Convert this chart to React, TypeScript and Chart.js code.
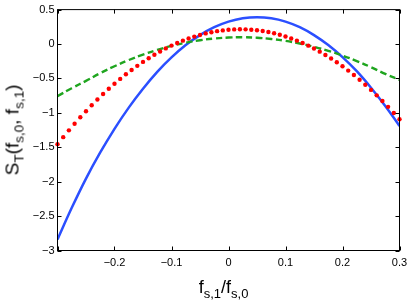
import React, { useEffect, useRef } from "react";
import { Chart, registerables } from "chart.js";

Chart.register(...registerables);

const xValues = [-0.3, -0.275, -0.25, -0.225, -0.2, -0.175, -0.15, -0.125, -0.1, -0.075, -0.05, -0.025, 0, 0.025, 0.05, 0.075, 0.1, 0.125, 0.15, 0.175, 0.2, 0.225, 0.25, 0.275, 0.3];
const blueValues = [-2.84, -2.38, -1.955, -1.576, -1.232, -0.924, -0.65, -0.405, -0.195, -0.015, 0.13, 0.244, 0.325, 0.374, 0.39, 0.374, 0.326, 0.245, 0.13, -0.015, -0.19, -0.395, -0.635, -0.9, -1.19];
const greenValues = [-0.757, -0.642, -0.536, -0.424, -0.323, -0.233, -0.153, -0.085, -0.027, 0.019, 0.055, 0.08, 0.094, 0.098, 0.091, 0.073, 0.046, 0.008, -0.041, -0.099, -0.168, -0.247, -0.336, -0.435, -0.52];

const redX = [
  -0.3, -0.29, -0.28, -0.27, -0.26, -0.25, -0.24, -0.23, -0.22, -0.21,
  -0.2, -0.19, -0.18, -0.17, -0.16, -0.15, -0.14, -0.13, -0.12, -0.11,
  -0.1, -0.09, -0.08, -0.07, -0.06, -0.05, -0.04, -0.03, -0.02, -0.01,
  0, 0.01, 0.02, 0.03, 0.04, 0.05, 0.06, 0.07, 0.08, 0.09,
  0.1, 0.11, 0.12, 0.13, 0.14, 0.15, 0.16, 0.17, 0.18, 0.19,
  0.2, 0.21, 0.22, 0.23, 0.24, 0.25, 0.26, 0.27, 0.28, 0.29, 0.3,
];
const redValues = [
  -1.455, -1.353, -1.254, -1.158, -1.065, -0.976, -0.89, -0.807, -0.727, -0.65,
  -0.577, -0.507, -0.44, -0.377, -0.317, -0.26, -0.206, -0.155, -0.108, -0.064,
  -0.023, 0.014, 0.049, 0.08, 0.108, 0.132, 0.154, 0.172, 0.187, 0.198,
  0.207, 0.212, 0.214, 0.213, 0.208, 0.2, 0.188, 0.174, 0.156, 0.134,
  0.109, 0.081, 0.049, 0.014, -0.024, -0.066, -0.111, -0.159, -0.211, -0.266,
  -0.324, -0.386, -0.451, -0.52, -0.592, -0.667, -0.746, -0.828, -0.913, -1.002, -1.094,
];

const xTickValues = [-0.3, -0.2, -0.1, 0, 0.1, 0.2, 0.3];
const xTickLabels = ["", "\u22120.2", "\u22120.1", "0", "0.1", "0.2", "0.3"];
const yTickValues = [-3, -2.5, -2, -1.5, -1, -0.5, 0, 0.5];
const yTickLabels = ["\u22123", "\u22122.5", "\u22122", "\u22121.5", "\u22121", "\u22120.5", "0", "0.5"];

const FONT = "'Liberation Sans', Arial, Helvetica, sans-serif";

const framePlugin = {
  id: "frame",
  afterDatasetsDraw(chart: any) {
    const { ctx, chartArea: a, scales } = chart;
    ctx.save();
    ctx.strokeStyle = "#000";
    ctx.lineWidth = 1;
    ctx.setLineDash([]);
    ctx.strokeRect(a.left, a.top, a.right - a.left, a.bottom - a.top);
    const tl = 4;
    ctx.beginPath();
    xTickValues.forEach((v) => {
      const px = Math.round(scales.x.getPixelForValue(v)) + 0.5;
      ctx.moveTo(px, a.bottom);
      ctx.lineTo(px, a.bottom - tl);
      ctx.moveTo(px, a.top);
      ctx.lineTo(px, a.top + tl);
    });
    yTickValues.forEach((v) => {
      const py = Math.round(scales.y.getPixelForValue(v)) + 0.5;
      ctx.moveTo(a.left, py);
      ctx.lineTo(a.left + tl, py);
      ctx.moveTo(a.right, py);
      ctx.lineTo(a.right - tl, py);
    });
    ctx.stroke();
    ctx.restore();
  },
};

function lookup(values: number[], labels: string[], v: number) {
  for (let i = 0; i < values.length; i++) {
    if (Math.abs(values[i] - v) < 1e-9) return labels[i];
  }
  return "";
}

export default function App() {
  const ref = useRef<HTMLCanvasElement | null>(null);

  useEffect(() => {
    if (!ref.current) return;
    const mk = (xs: number[], ys: number[]) => xs.map((x, i) => ({ x, y: ys[i] }));
    const chart = new Chart(ref.current, {
      type: "line",
      data: {
        datasets: [
          {
            data: mk(redX, redValues),
            showLine: false,
            pointRadius: 2.2,
            pointBorderWidth: 0,
            pointBackgroundColor: "#ff0000",
            pointBorderColor: "#ff0000",
            clip: false,
            order: 0,
          },
          {
            data: mk(xValues, greenValues),
            borderColor: "#1fa51f",
            borderWidth: 2.4,
            borderDash: [6.5, 3.5],
            pointRadius: 0,
            tension: 0.4,
            fill: false,
            order: 1,
          },
          {
            data: mk(xValues, blueValues),
            borderColor: "#2b4fff",
            borderWidth: 2.5,
            pointRadius: 0,
            tension: 0.4,
            fill: false,
            order: 2,
          },
        ] as any,
      },
      options: {
        animation: false,
        responsive: false,
        devicePixelRatio: 1,
        layout: { padding: { left: 0, top: 9.5, right: 15.5, bottom: 0 } },
        plugins: { legend: { display: false }, tooltip: { enabled: false } },
        scales: {
          x: {
            type: "linear",
            min: -0.3,
            max: 0.3,
            grid: { display: false, drawTicks: false },
            border: { display: false },
            afterBuildTicks: (s: any) => {
              s.ticks = xTickValues.map((v) => ({ value: v }));
            },
            afterFit: (s: any) => {
              s.height = 49.5;
            },
            ticks: {
              autoSkip: false,
              maxRotation: 0,
              padding: 6,
              color: "#000",
              font: { family: FONT, size: 11 },
              callback: (v: any) => lookup(xTickValues, xTickLabels, Number(v)),
            },
          },
          y: {
            type: "linear",
            min: -3,
            max: 0.5,
            grid: { display: false, drawTicks: false },
            border: { display: false },
            afterBuildTicks: (s: any) => {
              s.ticks = yTickValues.map((v) => ({ value: v }));
            },
            afterFit: (s: any) => {
              s.width = 57.5;
            },
            ticks: {
              autoSkip: false,
              padding: 3,
              color: "#000",
              font: { family: FONT, size: 11 },
              callback: (v: any) => lookup(yTickValues, yTickLabels, Number(v)),
            },
          },
        },
      },
      plugins: [framePlugin],
    });
    return () => chart.destroy();
  }, []);

  const subY: React.CSSProperties = { fontSize: 13.5, position: "relative", top: 5, lineHeight: "19px" };
  const subX: React.CSSProperties = { fontSize: 13, position: "relative", top: 5, lineHeight: "18px" };

  return (
    <div style={{ position: "absolute", left: 0, top: 0, width: 415, height: 300, background: "#fff", overflow: "hidden" }}>
      <canvas ref={ref} width={415} height={300} style={{ display: "block", width: 415, height: 300 }} />
      <div
        style={{
          position: "absolute",
          left: 11.5,
          top: 130,
          transform: "translate(-50%, -50%) rotate(-90deg)",
          fontFamily: FONT,
          fontSize: 19,
          lineHeight: "19px",
          height: 19,
          whiteSpace: "nowrap",
          color: "#000",
        }}
      >
        S<span style={subY}>T</span>(f<span style={subY}>s,0</span>, f<span style={subY}>s,1</span>)
      </div>
      <div
        style={{
          position: "absolute",
          left: 223.5,
          top: 277.5,
          transform: "translateX(-50%)",
          fontFamily: FONT,
          fontSize: 18,
          lineHeight: "18px",
          height: 18,
          whiteSpace: "nowrap",
          color: "#000",
        }}
      >
        f<span style={subX}>s,1</span>/f<span style={subX}>s,0</span>
      </div>
    </div>
  );
}
